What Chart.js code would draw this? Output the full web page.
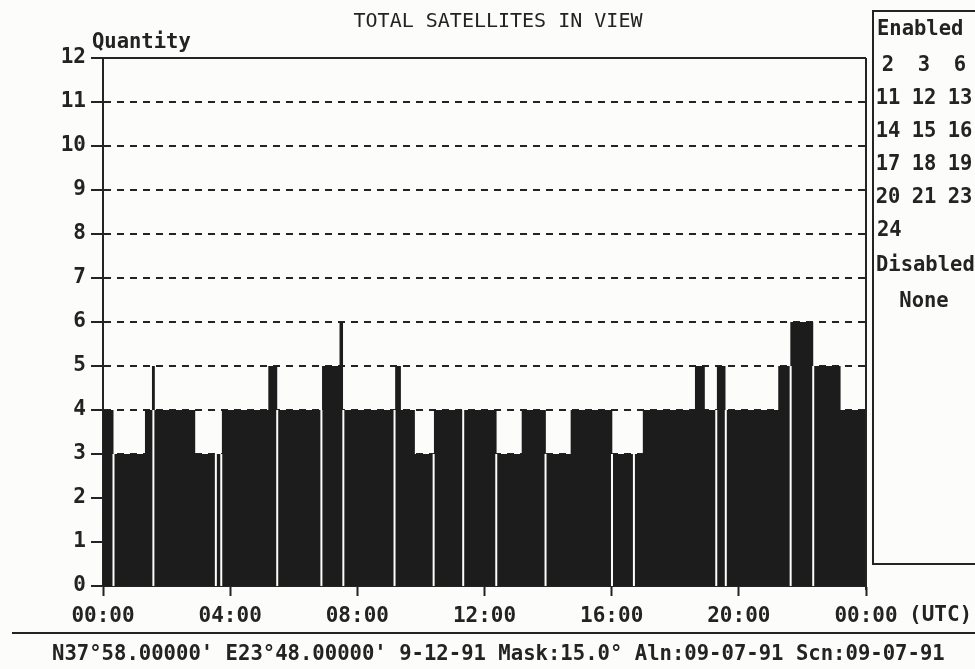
<!DOCTYPE html>
<html>
<head>
<meta charset="utf-8">
<title>Total satellites in view</title>
<script src="https://cdn.jsdelivr.net/npm/chart.js@4.4.1/dist/chart.umd.min.js"></script>
<style>
  html, body { margin: 0; padding: 0; background: #fcfcfa; }
  canvas { display: block; }
</style>
</head>
<body>
<canvas id="satChart" width="975" height="669"></canvas>
<script>
// hour (UTC) where the count changes, and the count from that hour on
const changeHours = [0, 0.33, 1.32, 1.54, 1.63, 2.90, 3.74, 5.20, 5.48, 6.89, 7.44, 7.55, 9.19, 9.37, 9.81, 10.41, 12.38, 13.17, 13.93, 14.71, 16.02, 16.98, 18.62, 18.93, 19.31, 19.58, 21.24, 21.62, 22.34, 23.20];
const satCounts = [4, 3, 4, 5, 4, 3, 4, 5, 4, 5, 6, 4, 5, 4, 3, 4, 3, 4, 3, 4, 3, 4, 5, 4, 5, 4, 5, 6, 5, 4];
const endHour = 24;

// thin white breaks printed through the bars
const breakHours = [0.33, 1.585, 3.55, 3.72, 5.48, 6.87, 7.56, 9.17, 10.40, 11.33, 12.37, 13.92, 16.01, 16.70, 19.29, 19.59, 21.63, 22.34];
const breakTops = [3, 4, 3, 3, 4, 4, 4, 4, 3, 4, 3, 3, 3, 3, 4, 4, 5, 5];

const xTickLabels = ['00:00', '04:00', '08:00', '12:00', '16:00', '20:00', '00:00'];

const enabledRows = [['2', '3', '6'], ['11', '12', '13'], ['14', '15', '16'], ['17', '18', '19'], ['20', '21', '23'], ['24']];
const disabledList = 'None';
const footerText = "N37\u00b058.00000' E23\u00b048.00000' 9-12-91 Mask:15.0\u00b0 Aln:09-07-91 Scn:09-07-91";

const INK = '#232323';
const BAR = '#1c1c1c';
const PAPER = '#fcfcfa';
const MONO = '"DejaVu Sans Mono", "Liberation Mono", monospace';

// step line points, last value held to the end of the day
const stepPoints = changeHours.map((h, i) => ({x: h, y: satCounts[i]}));
stepPoints.push({x: endHour, y: satCounts[satCounts.length - 1]});

const breakPoints = [];
breakHours.forEach((h, i) => {
    breakPoints.push({x: h, y: 0}, {x: h, y: breakTops[i]}, {x: h, y: null});
});

const printout = {
    id: 'printout',
    beforeDraw(chart) {
        const ctx = chart.ctx;
        ctx.save();
        ctx.fillStyle = PAPER;
        ctx.fillRect(0, 0, chart.width, chart.height);
        ctx.restore();
    },
    afterDraw(chart) {
        const ctx = chart.ctx;
        const area = chart.chartArea;
        const x = chart.scales.x;
        ctx.save();
        ctx.strokeStyle = INK;
        ctx.lineWidth = 2;

        // solid top line at 12 and right frame
        ctx.beginPath();
        ctx.moveTo(area.left, area.top);
        ctx.lineTo(area.right, area.top);
        ctx.moveTo(area.right, area.top);
        ctx.lineTo(area.right, area.bottom + 4);
        ctx.stroke();

        ctx.fillStyle = INK;
        ctx.textBaseline = 'middle';

        ctx.font = '20px ' + MONO;
        ctx.textAlign = 'center';
        ctx.fillText('TOTAL SATELLITES IN VIEW', 498, 22);

        ctx.font = 'bold 20.5px ' + MONO;
        ctx.textAlign = 'left';
        ctx.fillText('Quantity', 92, 43);

        // (UTC) after the last tick label
        ctx.font = 'bold 21px ' + MONO;
        ctx.fillText('(UTC)', x.getPixelForValue(endHour) + 43, 616);

        // satellite panel
        ctx.font = 'bold 20.5px ' + MONO;
        ctx.strokeRect(873, 11, 120, 553);
        ctx.fillText('Enabled', 877, 30);
        const cols = [888, 924, 960];
        enabledRows.forEach((row, r) => {
            row.forEach((s, c) => {
                ctx.textAlign = row.length === 1 ? 'left' : 'center';
                ctx.fillText(s, row.length === 1 ? 877 : cols[c], 66 + r * 33);
            });
        });
        ctx.textAlign = 'left';
        ctx.fillText('Disabled', 876, 266);
        ctx.textAlign = 'center';
        ctx.fillText(disabledList, 924, 302);

        // footer
        ctx.beginPath();
        ctx.moveTo(12, 633);
        ctx.lineTo(975, 633);
        ctx.stroke();
        ctx.font = 'bold 20.6px ' + MONO;
        ctx.textAlign = 'left';
        ctx.fillText(footerText, 52, 655);
        ctx.restore();
    }
};

const tickFont = {family: MONO, size: 21, weight: 'bold'};

new Chart(document.getElementById('satChart'), {
    type: 'line',
    data: {
        datasets: [
            {
                label: 'breaks',
                data: breakPoints,
                borderColor: PAPER,
                borderWidth: 2,
                pointRadius: 0,
                fill: false,
                spanGaps: false,
                order: 0
            },
            {
                label: 'Satellites in view',
                data: stepPoints,
                stepped: true,
                fill: 'origin',
                backgroundColor: BAR,
                borderColor: BAR,
                borderWidth: 0,
                pointRadius: 0,
                order: 1
            }
        ]
    },
    options: {
        responsive: false,
        animation: false,
        devicePixelRatio: 1,
        layout: {padding: {left: 0, top: 58, right: 109, bottom: 0}},
        plugins: {
            legend: {display: false},
            tooltip: {enabled: false}
        },
        scales: {
            x: {
                type: 'linear',
                min: 0,
                max: endHour,
                afterFit: s => { s.height = 83; },
                ticks: {
                    stepSize: 4,
                    autoSkip: false,
                    maxRotation: 0,
                    color: INK,
                    font: tickFont,
                    padding: 8,
                    callback: (v, i) => xTickLabels[i]
                },
                grid: {
                    drawOnChartArea: false,
                    tickLength: 10,
                    tickColor: INK,
                    tickWidth: 2
                },
                border: {color: INK, width: 2}
            },
            y: {
                min: 0,
                max: 12,
                afterFit: s => { s.width = 103; },
                ticks: {
                    stepSize: 1,
                    color: INK,
                    font: tickFont,
                    padding: 5
                },
                grid: {
                    color: INK,
                    lineWidth: 2,
                    tickLength: 12,
                    tickColor: INK,
                    tickWidth: 2
                },
                border: {color: INK, width: 2, dash: [7, 6]}
            }
        }
    },
    plugins: [printout]
});
</script>
</body>
</html>
